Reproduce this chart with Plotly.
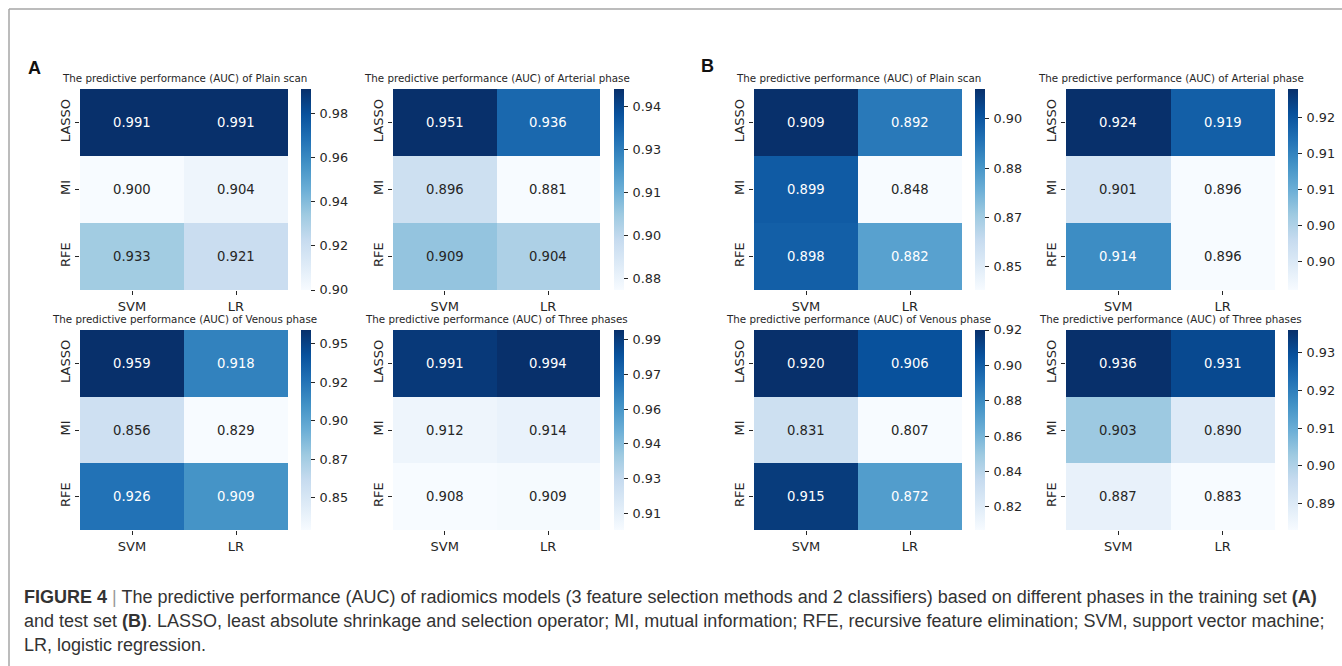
import numpy as np
import plotly.graph_objects as go

W, H = 1342, 666

methods = ["LASSO", "MI", "RFE"]
classifiers = ["SVM", "LR"]
phase_names = ["Plain scan", "Arterial phase", "Venous phase", "Three phases"]

# AUC, training set (A): rows = methods, columns = classifiers
train_plain = [[0.991, 0.991], [0.900, 0.904], [0.933, 0.921]]
train_arterial = [[0.951, 0.936], [0.896, 0.881], [0.909, 0.904]]
train_venous = [[0.959, 0.918], [0.856, 0.829], [0.926, 0.909]]
train_three = [[0.991, 0.994], [0.912, 0.914], [0.908, 0.909]]

# AUC, test set (B)
test_plain = [[0.909, 0.892], [0.899, 0.848], [0.898, 0.882]]
test_arterial = [[0.924, 0.919], [0.901, 0.896], [0.914, 0.896]]
test_venous = [[0.920, 0.906], [0.831, 0.807], [0.915, 0.872]]
test_three = [[0.936, 0.931], [0.903, 0.890], [0.887, 0.883]]

# colour-bar ticks and their labels
train_plain_ticks = [0.90, 0.92, 0.94, 0.96, 0.98]
train_plain_labels = ["0.90", "0.92", "0.94", "0.96", "0.98"]
train_arterial_ticks = [0.885, 0.900, 0.915, 0.930, 0.945]
train_arterial_labels = ["0.88", "0.90", "0.91", "0.93", "0.94"]
train_venous_ticks = [0.850, 0.875, 0.900, 0.925, 0.950]
train_venous_labels = ["0.85", "0.87", "0.90", "0.92", "0.95"]
train_three_ticks = [0.915, 0.930, 0.945, 0.960, 0.975, 0.990]
train_three_labels = ["0.91", "0.93", "0.94", "0.96", "0.97", "0.99"]
test_plain_ticks = [0.855, 0.870, 0.885, 0.900]
test_plain_labels = ["0.85", "0.87", "0.88", "0.90"]
test_arterial_ticks = [0.900, 0.905, 0.910, 0.915, 0.920]
test_arterial_labels = ["0.90", "0.90", "0.91", "0.91", "0.92"]
test_venous_ticks = [0.82, 0.84, 0.86, 0.88, 0.90, 0.92]
test_venous_labels = ["0.82", "0.84", "0.86", "0.88", "0.90", "0.92"]
test_three_ticks = [0.89, 0.90, 0.91, 0.92, 0.93]
test_three_labels = ["0.89", "0.90", "0.91", "0.92", "0.93"]

caption_lines = [
    "<b>FIGURE 4</b> <span style='color:#9a9a9a'>|</span> The predictive performance (AUC) of radiomics models "
    "(3 feature selection methods and 2 classifiers) based on different phases in the training set <b>(A)</b>",
    "and test set <b>(B)</b>. LASSO, least absolute shrinkage and selection operator; MI, mutual information; "
    "RFE, recursive feature elimination; SVM, support vector machine;",
    "LR, logistic regression.",
]

# ColorBrewer "Blues" (same stops as matplotlib's Blues)
BLUES = ["#f7fbff", "#deebf7", "#c6dbef", "#9ecae1", "#6baed6",
         "#4292c6", "#2171b5", "#08519c", "#08306b"]
blues_scale = [[i / (len(BLUES) - 1), c] for i, c in enumerate(BLUES)]
blues_rgb = np.array([[int(c[k:k + 2], 16) for k in (1, 3, 5)] for c in BLUES]) / 255.0


def cell_rgb(t):
    pos = np.linspace(0, 1, len(BLUES))
    return np.array([np.interp(t, pos, blues_rgb[:, k]) for k in range(3)])


def luminance(rgb):
    lin = np.where(rgb <= 0.03928, rgb / 12.92, ((rgb + 0.055) / 1.055) ** 2.4)
    return 0.2126 * lin[0] + 0.7152 * lin[1] + 0.0722 * lin[2]


TEXT = "#262626"
FONT = "DejaVu Sans"
THIN = "\u2009"

# (values, ticks, tick labels, phase index, heatmap left, heatmap right, top, bottom, colour-bar left)
panels = [
    (train_plain, train_plain_ticks, train_plain_labels, 0, 80, 288, 89, 290, 301),
    (train_arterial, train_arterial_ticks, train_arterial_labels, 1, 393, 600, 89, 290, 614),
    (train_venous, train_venous_ticks, train_venous_labels, 2, 80, 288, 330, 530, 301),
    (train_three, train_three_ticks, train_three_labels, 3, 393, 600, 330, 530, 614),
    (test_plain, test_plain_ticks, test_plain_labels, 0, 754, 962, 89, 290, 975),
    (test_arterial, test_arterial_ticks, test_arterial_labels, 1, 1066, 1275, 89, 290, 1288),
    (test_venous, test_venous_ticks, test_venous_labels, 2, 754, 962, 330, 530, 975),
    (test_three, test_three_ticks, test_three_labels, 3, 1066, 1275, 330, 530, 1288),
]

fig = go.Figure()
layout = dict(
    width=W, height=H,
    margin=dict(l=0, r=0, t=0, b=0, autoexpand=False),
    paper_bgcolor="white", plot_bgcolor="white",
    font=dict(family=FONT, color=TEXT),
    showlegend=False,
)
annotations = []

for i, (z, ticks, labels, ph, x0, x1, y0, y1, cbx) in enumerate(panels, start=1):
    z = np.array(z)
    zmin, zmax = float(z.min()), float(z.max())
    sfx = "" if i == 1 else str(i)
    fig.add_trace(go.Heatmap(
        z=z, x=classifiers, y=methods,
        xaxis="x" + sfx, yaxis="y" + sfx, coloraxis="coloraxis" + sfx,
        hoverinfo="skip",
    ))
    layout["xaxis" + sfx] = dict(
        domain=[x0 / W, x1 / W], anchor="y" + sfx,
        showgrid=False, zeroline=False, showline=False,
        ticks="outside", ticklen=4, tickwidth=1, tickcolor=TEXT,
        tickfont=dict(size=13, color=TEXT, family=FONT),
    )
    layout["yaxis" + sfx] = dict(
        domain=[1 - y1 / H, 1 - y0 / H], anchor="x" + sfx,
        autorange="reversed",
        showgrid=False, zeroline=False, showline=False,
        ticks="outside", ticklen=4, tickwidth=1, tickcolor=TEXT,
        tickangle=-90,
        tickfont=dict(size=13, color=TEXT, family=FONT),
    )
    layout["coloraxis" + sfx] = dict(
        colorscale=blues_scale, cmin=zmin, cmax=zmax,
        colorbar=dict(
            x=cbx / W, xanchor="left", xpad=0,
            y=1 - y0 / H, yanchor="top", ypad=0,
            len=y1 - y0, lenmode="pixels",
            thickness=10, thicknessmode="pixels",
            outlinewidth=0,
            tickvals=ticks, ticktext=[THIN + s for s in labels],
            ticks="outside", ticklen=4, tickwidth=1, tickcolor=TEXT,
            tickfont=dict(size=12.8, color=TEXT, family=FONT),
        ),
    )
    # cell values
    for r, m in enumerate(methods):
        for c, cl in enumerate(classifiers):
            v = z[r, c]
            t = (v - zmin) / (zmax - zmin)
            col = TEXT if luminance(cell_rgb(t)) > 0.408 else "white"
            annotations.append(dict(
                x=cl, y=m, xref="x" + sfx, yref="y" + sfx,
                text=f"{v:.3f}", showarrow=False,
                font=dict(size=13.2, color=col, family=FONT),
            ))
    # panel title
    annotations.append(dict(
        x=(x0 + x1) / 2 / W, y=1 - (y0 - 11) / H, xref="paper", yref="paper",
        xanchor="center", yanchor="middle", showarrow=False,
        text="The predictive performance (AUC) of " + phase_names[ph],
        font=dict(size=10.3, color=TEXT, family=FONT),
    ))

# panel letters
for letter, lx, ly in [("A", 34, 68), ("B", 707, 66)]:
    annotations.append(dict(
        x=lx / W, y=1 - ly / H, xref="paper", yref="paper",
        xanchor="center", yanchor="middle", showarrow=False,
        text="<b>" + letter + "</b>",
        font=dict(size=18, color="#111111", family="Liberation Sans"),
    ))

# caption
for k, line in enumerate(caption_lines):
    annotations.append(dict(
        x=22 / W, y=1 - (597 + 24 * k) / H, xref="paper", yref="paper",
        xanchor="left", yanchor="middle", showarrow=False, align="left",
        text=line,
        font=dict(size=18, color="#333333", family="Liberation Sans"),
    ))

layout["annotations"] = annotations

# frame around the figure block
layout["shapes"] = [
    dict(type="line", xref="paper", yref="paper", x0=9 / W, x1=1.0, y0=1 - 9 / H, y1=1 - 9 / H,
         line=dict(color="#a6a6a6", width=1.5)),
    dict(type="line", xref="paper", yref="paper", x0=9 / W, x1=9 / W, y0=0.0, y1=1 - 9 / H,
         line=dict(color="#a6a6a6", width=1.5)),
]

fig.update_layout(**layout)
fig.write_html("out.html")
